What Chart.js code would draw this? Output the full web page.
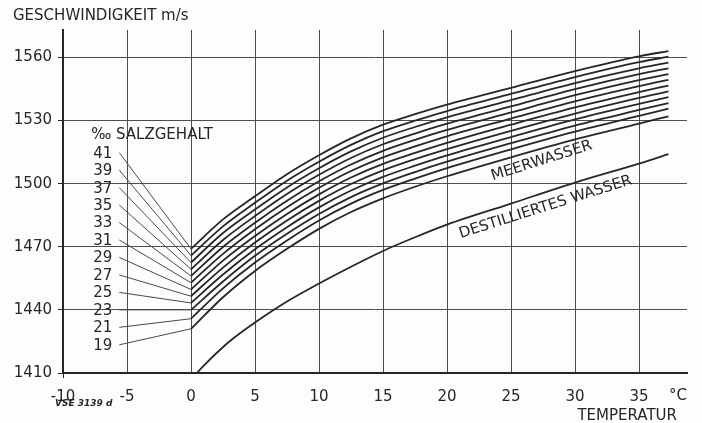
<!DOCTYPE html>
<html>
<head>
<meta charset="utf-8">
<script src="https://cdn.jsdelivr.net/npm/chart.js@4.4.1/dist/chart.umd.min.js"></script>
<style>
  html, body { margin: 0; padding: 0; background: #fdfdfb; }
  #chart { display: block; }
</style>
</head>
<body>
<canvas id="chart" width="702" height="423"></canvas>
<script>
// temperature grid (°C) at which the sea water curves were read
const seaTemps = [0, 2.5, 5, 7.5, 10, 12.5, 15, 17.5, 20, 25, 30, 35, 37.3];

// sound speed in sea water (m/s) per salinity (‰)
const salinities = [19, 21, 23, 25, 27, 29, 31, 33, 35, 37, 39, 41];
const sea19 = [1431, 1446, 1458.5, 1469, 1478.5, 1486.5, 1493, 1498.5, 1503.5, 1512.5, 1521, 1528.5, 1532];
const sea21 = [1435.8, 1450.2, 1462.5, 1473, 1482.5, 1490.5, 1497, 1502.4, 1507.4, 1516.3, 1524.7, 1532.2, 1535.6];
const sea23 = [1440, 1453.5, 1465.7, 1476.2, 1485.6, 1493.6, 1500.1, 1505.5, 1510.4, 1519.2, 1527.6, 1535, 1538.3];
const sea25 = [1443.3, 1456.8, 1468.8, 1479.3, 1488.7, 1496.7, 1503.2, 1508.5, 1513.4, 1522.1, 1530.5, 1537.9, 1541.1];
const sea27 = [1446.5, 1460.1, 1472, 1482.5, 1491.8, 1499.8, 1506.3, 1511.6, 1516.4, 1525.1, 1533.3, 1540.7, 1543.8];
const sea29 = [1449.7, 1463.4, 1475.1, 1485.6, 1494.9, 1502.9, 1509.4, 1514.6, 1519.4, 1528, 1536.2, 1543.5, 1546.6];
const sea31 = [1452.9, 1466.6, 1478.3, 1488.8, 1498, 1506, 1512.5, 1517.7, 1522.5, 1530.9, 1539.1, 1546.3, 1549.3];
const sea33 = [1456.1, 1469.9, 1481.4, 1491.9, 1501.1, 1509.1, 1515.6, 1520.8, 1525.5, 1533.8, 1542, 1549.2, 1552];
const sea35 = [1459.3, 1473.2, 1484.6, 1495.1, 1504.2, 1512.2, 1518.7, 1523.8, 1528.5, 1536.7, 1544.9, 1552, 1554.8];
const sea37 = [1462.5, 1476.5, 1487.7, 1498.2, 1507.3, 1515.3, 1521.8, 1526.9, 1531.5, 1539.7, 1547.8, 1554.8, 1557.5];
const sea39 = [1465.8, 1479.7, 1490.9, 1501.4, 1510.4, 1518.4, 1524.9, 1529.9, 1534.5, 1542.6, 1550.6, 1557.7, 1560.3];
const sea41 = [1469, 1483, 1494, 1504.5, 1513.5, 1521.5, 1528, 1533, 1537.5, 1545.5, 1553.5, 1560.5, 1563];
const seaSeries = [sea19, sea21, sea23, sea25, sea27, sea29, sea31, sea33, sea35, sea37, sea39, sea41];

// distilled water
const distTemps = [0.45, 1, 2, 3, 5, 7.5, 10, 12.5, 15, 17.5, 20, 25, 30, 35, 37.3];
const distSpeed = [1410, 1413.5, 1419.5, 1425, 1434, 1444, 1452.5, 1460.5, 1468, 1474.5, 1480.5, 1490.5, 1500.5, 1509.5, 1514];

// salinity label column: where each leader line starts (speed units)
const labelTemp = -5.6;
const labelSpeed = [1423.4, 1431.7, 1440, 1448.3, 1456.6, 1464.9, 1473.2, 1481.5, 1489.8, 1498.1, 1506.4, 1514.7];

// axes
const xTicks = [-10, -5, 0, 5, 10, 15, 20, 25, 30, 35];
const yTicks = [1410, 1440, 1470, 1500, 1530, 1560];

const FONT = '"DejaVu Sans", sans-serif';
const INK = '#262626';

const datasets = [];
seaSeries.forEach(function(vals, i) {
  datasets.push({
    label: salinities[i] + ' ‰',
    data: seaTemps.map(function(t, j) { return { x: t, y: vals[j] }; }),
    borderColor: INK,
    borderWidth: 1.8,
    pointRadius: 0,
    cubicInterpolationMode: 'monotone',
    fill: false
  });
  datasets.push({
    label: 'leader ' + salinities[i],
    data: [{ x: labelTemp, y: labelSpeed[i] }, { x: 0, y: vals[0] }],
    borderColor: '#4a4a4a',
    borderWidth: 1,
    pointRadius: 0,
    tension: 0,
    fill: false
  });
});
datasets.push({
  label: 'Destilliertes Wasser',
  data: distTemps.map(function(t, j) { return { x: t, y: distSpeed[j] }; }),
  borderColor: INK,
  borderWidth: 1.8,
  pointRadius: 0,
  cubicInterpolationMode: 'monotone',
  fill: false
});

const paperBg = {
  id: 'paperBg',
  beforeDraw: function(chart) {
    const c = chart.ctx;
    c.save();
    c.fillStyle = '#fdfdfb';
    c.fillRect(0, 0, chart.width, chart.height);
    c.restore();
  }
};

function rotatedText(c, text, x, y, deg) {
  c.save();
  c.translate(x, y);
  c.rotate(deg * Math.PI / 180);
  c.textAlign = 'center';
  c.textBaseline = 'middle';
  c.fillText(text, 0, 0);
  c.restore();
}

const annotations = {
  id: 'annotations',
  afterDatasetsDraw: function(chart) {
    const c = chart.ctx;
    const xs = chart.scales.x, ys = chart.scales.y;
    const area = chart.chartArea;
    c.save();
    c.fillStyle = INK;
    c.font = '15px ' + FONT;
    c.textBaseline = 'middle';

    c.textAlign = 'left';
    c.fillText('GESCHWINDIGKEIT m/s', 13, 16);

    // salinity labels
    c.textAlign = 'right';
    const lx = xs.getPixelForValue(labelTemp) - 7;
    salinities.forEach(function(s, i) {
      c.fillText(String(s), lx, ys.getPixelForValue(labelSpeed[i]) + 1);
    });
    c.textAlign = 'left';
    c.fillText('‰ SALZGEHALT', xs.getPixelForValue(-7.8), ys.getPixelForValue(1523));

    rotatedText(c, 'MEERWASSER', xs.getPixelForValue(27.4), ys.getPixelForValue(1510.8), -17.5);
    rotatedText(c, 'DESTILLIERTES WASSER', xs.getPixelForValue(27.7), ys.getPixelForValue(1488.8), -17.5);

    c.textAlign = 'center';
    c.fillText('°C', xs.getPixelForValue(38.05), area.bottom + 23);
    c.textAlign = 'right';
    c.fillText('TEMPERATUR', area.right - 10, area.bottom + 43);

    c.font = 'italic bold 9px ' + FONT;
    c.textAlign = 'left';
    c.fillText('VSE 3139 d', area.left - 8, area.bottom + 31);
    c.restore();
  }
};

new Chart(document.getElementById('chart'), {
  type: 'line',
  data: { datasets: datasets },
  options: {
    responsive: false,
    animation: false,
    devicePixelRatio: 1,
    layout: { padding: { top: 30, right: 15, left: 0, bottom: 0 } },
    plugins: { legend: { display: false }, tooltip: { enabled: false } },
    scales: {
      x: {
        type: 'linear',
        min: -10,
        max: 38.75,
        afterBuildTicks: function(s) { s.ticks = xTicks.map(function(v) { return { value: v }; }); },
        afterFit: function(s) { s.height = 50; },
        ticks: {
          font: { family: FONT, size: 15 },
          color: INK,
          padding: 10,
          maxRotation: 0,
          autoSkip: false,
          callback: function(v) { return String(v); }
        },
        grid: {
          color: '#4d4d4d',
          lineWidth: 1,
          tickLength: 5,
          tickColor: function(ctx) { return ctx.tick && ctx.tick.value === -10 ? INK : 'rgba(0,0,0,0)'; }
        },
        border: { color: INK, width: 2 }
      },
      y: {
        type: 'linear',
        min: 1410,
        max: 1573,
        afterBuildTicks: function(s) { s.ticks = yTicks.map(function(v) { return { value: v }; }); },
        afterFit: function(s) { s.width = 63; },
        ticks: {
          font: { family: FONT, size: 15 },
          color: INK,
          padding: 6,
          autoSkip: false,
          callback: function(v) { return String(v); }
        },
        grid: { color: '#4d4d4d', lineWidth: 1, tickLength: 5, tickColor: INK },
        border: { color: INK, width: 2 }
      }
    }
  },
  plugins: [paperBg, annotations]
});
</script>
</body>
</html>
